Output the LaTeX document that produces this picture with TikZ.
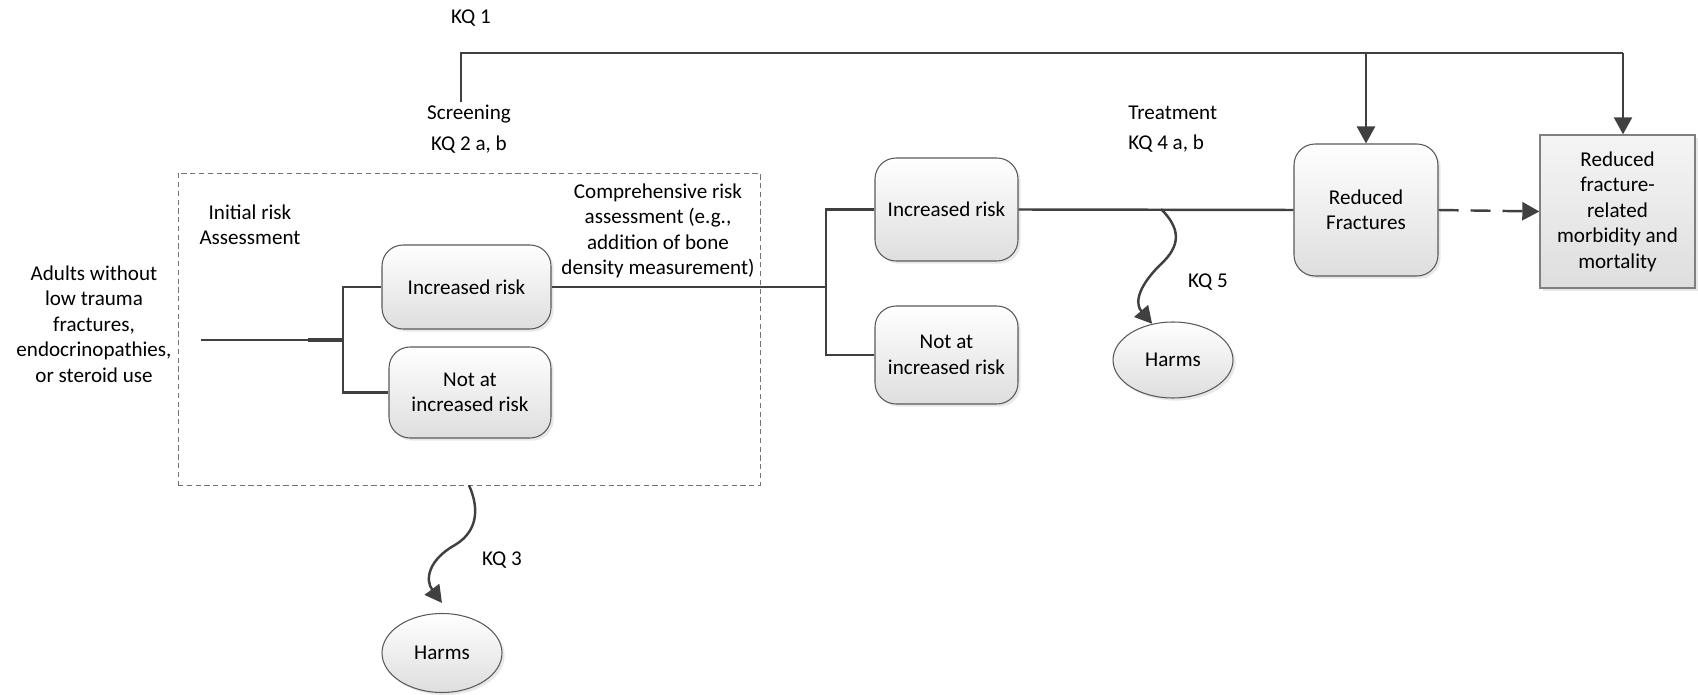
\documentclass[tikz,border=0pt]{standalone}
\usepackage{fontspec}
\setmainfont{Carlito}
\usetikzlibrary{arrows.meta,shadows,shapes.geometric}
\definecolor{lnc}{HTML}{404040}
\definecolor{bdc}{HTML}{595959}

\begin{document}
\begin{tikzpicture}[x=0.02cm,y=-0.02cm,
    font=\fontsize{12}{14.5}\selectfont,
    shd/.style={drop shadow={opacity=0.18,shadow xshift=1.5pt,shadow yshift=-1.5pt}},
    rbox/.style={draw=bdc,line width=0.6pt,rounded corners=0.42cm,top color=white,bottom color=black!13,shd,align=center,inner sep=0pt},
    sqbox/.style={draw=black!50,line width=0.8pt,top color=black!4,bottom color=black!13,shd,align=center,inner sep=0pt},
    oval/.style={ellipse,draw=bdc,line width=0.6pt,top color=white,bottom color=black!13,shd,inner sep=0pt,minimum width=2.4cm},
    lbl/.style={align=center,inner sep=0pt},
    conn/.style={draw=lnc,line width=1.4pt},
    arr/.style={conn,-{Triangle[length=0.34cm,width=0.36cm]}}]
  \useasboundingbox (0,0) rectangle (1698,695);

  \node[draw=black!55,line width=0.5pt,dash pattern=on 3pt off 2pt,minimum width=11.64cm,minimum height=6.24cm] (scr) at (469,329) {};

  \node[lbl] (adults) at (94,324) {Adults without\\low trauma\\fractures,\\endocrinopathies,\\or steroid use};
  \node[lbl] (init) at (250,225) {Initial risk\\Assessment};
  \node[lbl] (comp) at (658,231) {Comprehensive risk\\assessment (e.g.,\\addition of bone\\density measurement)};
  \node[lbl] (kq1) at (471,18) {KQ 1};
  \node[lbl] (scrn) at (469,129) {Screening\\[0.1cm]KQ 2 a, b};
  \node[lbl,align=left,anchor=west] (trt) at (1128,129) {Treatment\\[0.1cm]KQ 4 a, b};
  \node[lbl] (kq3) at (502,560) {KQ 3};
  \node[lbl] (kq5) at (1208,282) {KQ 5};

  \node[rbox,minimum width=3.38cm,minimum height=1.68cm] (inc1) at (466.5,287) {Increased risk};
  \node[rbox,minimum width=3.24cm,minimum height=1.82cm] (not1) at (470,392.5) {Not at\\increased risk};
  \node[rbox,minimum width=2.86cm,minimum height=2.06cm] (inc2) at (946.5,209.5) {Increased risk};
  \node[rbox,minimum width=2.86cm,minimum height=1.96cm] (not2) at (946.5,355) {Not at\\increased risk};
  \node[rbox,minimum width=2.88cm,minimum height=2.64cm] (red) at (1366,210) {Reduced\\Fractures};
  \node[sqbox,minimum width=3.1cm,minimum height=3.06cm] (fin) at (1617.5,211.5) {Reduced\\fracture-\\related\\morbidity and\\mortality};
  \node[oval,minimum height=1.58cm] (h1) at (442,653) {Harms};
  \node[oval,minimum height=1.52cm] (h2) at (1173,360) {Harms};

  \coordinate (s0) at (201,340);
  \coordinate (s1) at (308,340);
  \coordinate (j1) at (343,340);
  \coordinate (j2) at (826,287);
  \coordinate (t0) at (461,102);
  \coordinate (t1) at (461,53);
  \coordinate (t2) at (1623,53);
  \coordinate (w5) at (1161,209);

  \draw[conn] (s0) -- (j1);
  \draw[conn,line width=2.2pt] (s1) -- (j1);
  \draw[conn] (inc1.west) -| (j1) |- (not1.west);
  \draw[conn] (inc1.east) -- (j2);
  \draw[conn] (inc2.west) -| (j2) |- (not2.west);
  \draw[conn] (inc2.east) -- (red.west);
  \draw[arr,dash pattern=on 0.4cm off 0.24cm] (red.east) -- (fin.west);
  \draw[conn] (t0) -- (t1) -- (t2);
  \draw[arr] (t2) -- (t2 |- fin.north);
  \draw[arr] (red.north |- t1) -- (red.north);
  \draw[arr] (scr.south) .. controls (478,505) and (480,530) .. (455,545)
    .. controls (428,560) and (425,580) .. ([yshift=0.2cm]h1.north);
  \draw[arr] (w5) .. controls (1180,228) and (1182,245) .. (1160,265)
    .. controls (1135,290) and (1136,305) .. (h2.120);
\end{tikzpicture}
\end{document}
